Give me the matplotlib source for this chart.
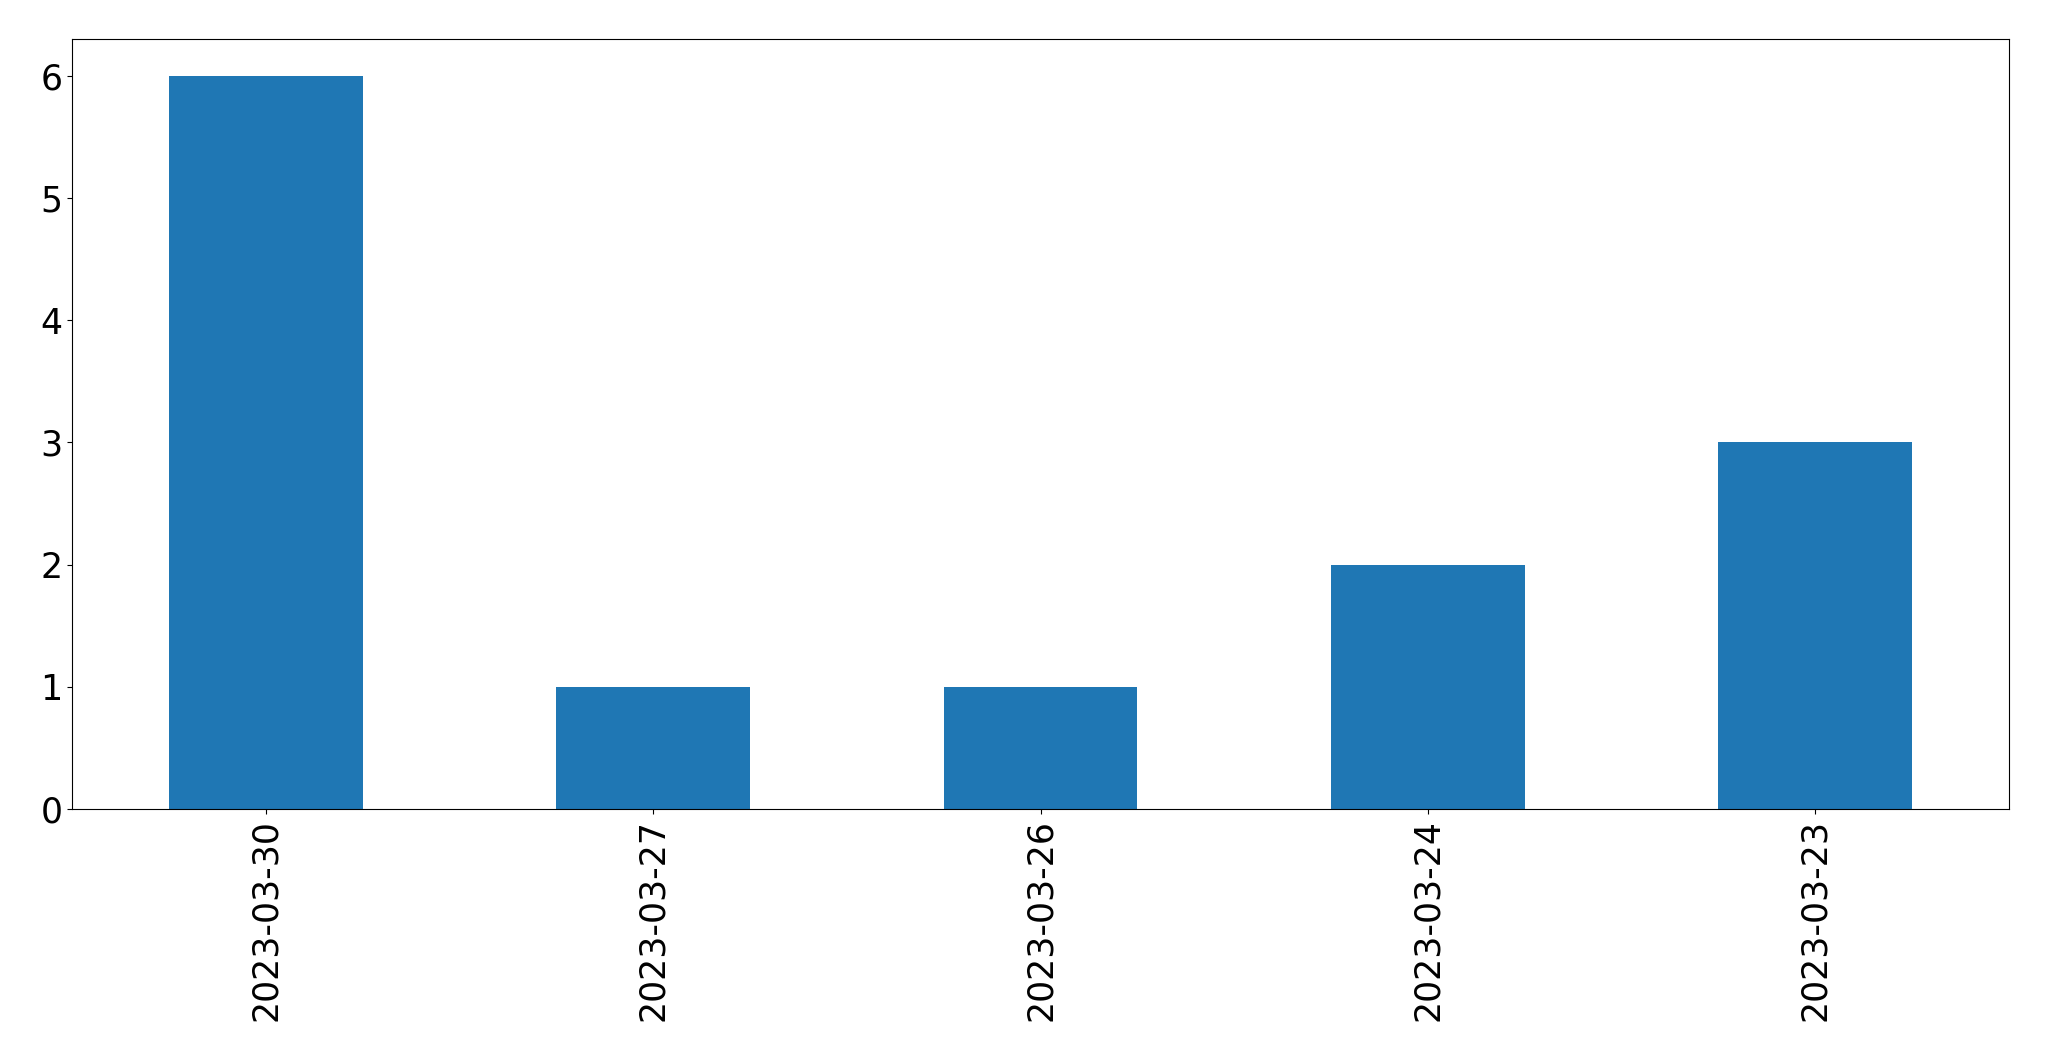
import matplotlib
matplotlib.use("Agg")
import matplotlib.pyplot as plt
import pandas as pd

dates = ["2023-03-30", "2023-03-27", "2023-03-26", "2023-03-24", "2023-03-23"]
counts = [6, 1, 1, 2, 3]

plt.rcParams['font.size'] = 25

fig = plt.figure(figsize=(20.49, 10.61), dpi=100)
# axes placed to match the reference layout
ax = fig.add_axes([72 / 2049, (1061 - 809) / 1061, (2009 - 72) / 2049, (809 - 39) / 1061])

s = pd.Series(counts, index=dates)
s.plot(kind="bar", ax=ax, color="#1f77b4")

ax.tick_params(axis="both", labelsize=25)
for lbl in ax.get_xticklabels():
    lbl.set_rotation(90)

fig.savefig("out.png", dpi=100)
